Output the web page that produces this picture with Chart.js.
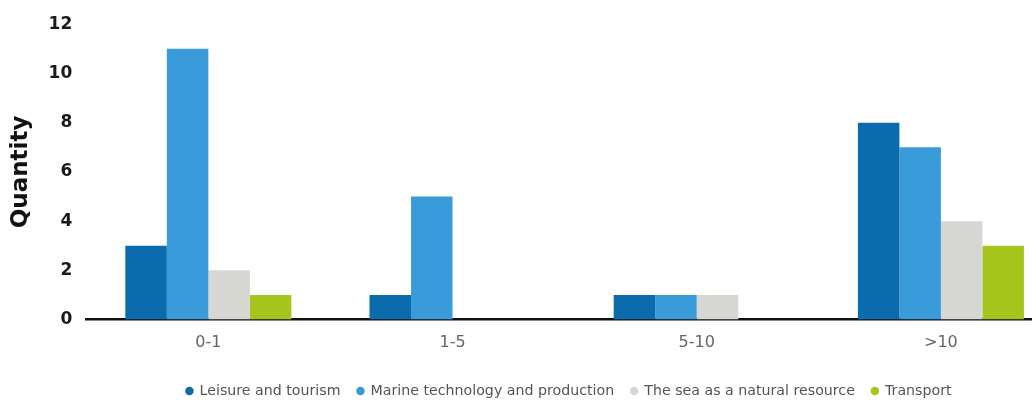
<!DOCTYPE html>
<html>
<head>
<meta charset="utf-8">
<script src="https://cdn.jsdelivr.net/npm/chart.js@4.4.1/dist/chart.umd.min.js"></script>
<style>
  html, body { margin: 0; padding: 0; background: #fff; overflow: hidden; }
  #wrap { width: 1032px; height: 400px; overflow: hidden; }
  #box { position: relative; width: 1063px; height: 400px; }
</style>
</head>
<body>
<div id="wrap"><div id="box"><canvas id="chart"></canvas></div></div>
<script>
// Data
const categories = ['0-1', '1-5', '5-10', '>10'];
const seriesNames = ['Leisure and tourism', 'Marine technology and production', 'The sea as a natural resource', 'Transport'];
const leisure = [3, 1, 1, 8];
const marine = [11, 5, 1, 7];
const seaResource = [2, 0, 1, 4];
const transport = [1, 0, 0, 3];
const yTicks = [0, 2, 4, 6, 8, 10, 12];

const palette = ['#0a6cad', '#3a9bdb', '#d6d6d2', '#a6c51c'];
const seriesValues = [leisure, marine, seaResource, transport];

const font = '"DejaVu Sans", Verdana, sans-serif';

// legend sits a bit lower and further right than Chart.js puts it by default
const legendShift = {
  id: 'legendShift',
  beforeLayout(chart) {
    const legend = chart.legend;
    if (!legend || legend._patched) return;
    const fit = legend.fit;
    legend.fit = function () {
      fit.call(this);
      this.height -= 8;
    };
    legend._patched = true;
  },
  afterLayout(chart) {
    if (chart.legend) chart.legend.left += 68;
  },
};

new Chart(document.getElementById('chart'), {
  type: 'bar',
  data: {
    labels: categories,
    datasets: seriesValues.map((values, i) => ({
      label: seriesNames[i],
      data: values,
      backgroundColor: palette[i],
      borderWidth: 0,
      barPercentage: 1.0,
      categoryPercentage: 0.68,
    })),
  },
  plugins: [legendShift],
  options: {
    responsive: true,
    maintainAspectRatio: false,
    animation: false,
    layout: { padding: { top: 10, left: 7, right: 0, bottom: 0 } },
    plugins: {
      tooltip: { enabled: false },
      legend: {
        position: 'bottom',
        align: 'center',
        labels: {
          font: { family: font, size: 14.2 },
          color: '#555',
          usePointStyle: true,
          pointStyle: 'circle',
          boxWidth: 6,
          boxHeight: 6,
          padding: 17,
        },
      },
    },
    scales: {
      x: {
        grid: { display: false, drawTicks: false },
        border: { display: true, color: '#111', width: 2.5 },
        ticks: { font: { family: font, size: 16 }, color: '#666', padding: 14 },
      },
      y: {
        min: 0,
        max: 12,
        afterBuildTicks: (axis) => { axis.ticks = yTicks.map((v) => ({ value: v })); },
        grid: { display: false, drawTicks: false },
        border: { display: false },
        ticks: { font: { family: font, size: 17, weight: 'bold' }, color: '#1a1a1a', padding: 14 },
        title: {
          display: true,
          text: 'Quantity',
          font: { family: font, size: 23, weight: 'bold' },
          color: '#111',
          padding: { top: 0, bottom: 0 },
        },
      },
    },
  },
});
</script>
</body>
</html>
